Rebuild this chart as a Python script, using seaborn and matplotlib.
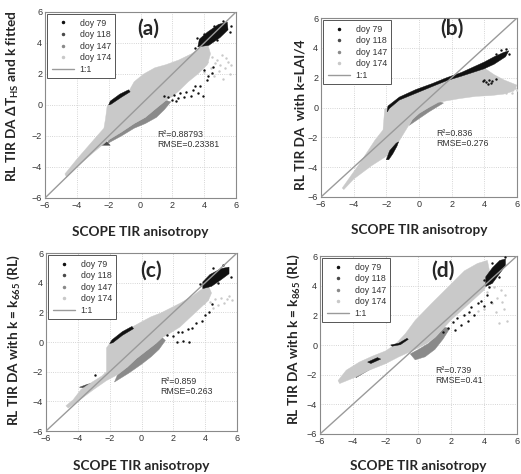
import matplotlib
matplotlib.use("Agg")
import matplotlib.pyplot as plt
from matplotlib.lines import Line2D
import seaborn as sns
import pandas as pd

# series colours (doy 79 .. doy 174)
DOYS = ["doy 79", "doy 118", "doy 147", "doy 174"]
COLORS = ["#111111", "#4a4a4a", "#8a8a8a", "#c9c9c9"]

# ---- panel (a): outlines of the dense clouds
A_174 = [(-4.75, -4.45), (-4.0, -3.5), (-2.9, -2.2), (-2.3, -1.5), (-2.2, -0.9), (-2.1, -0.1),
         (-1.9, 0.15), (-1.3, 0.55), (-0.7, 0.95), (-0.4, 1.5), (0.2, 2.0), (0.9, 2.4), (1.6, 2.6),
         (2.4, 2.9), (3.2, 3.3), (3.8, 3.7), (4.2, 4.0), (4.4, 3.3), (4.2, 2.6), (3.6, 2.0),
         (3.0, 1.5), (2.4, 0.9), (2.0, 0.55), (1.6, 0.3), (1.0, -0.2), (0.3, -0.8), (-0.4, -1.2),
         (-1.2, -1.75), (-2.0, -2.25), (-3.0, -3.1), (-4.0, -4.0), (-4.65, -4.65)]
A_147 = [(-2.1, -2.5), (-1.2, -2.0), (-0.4, -1.5), (0.3, -1.2), (1.0, -0.8), (1.5, -0.3), (1.9, 0.2),
         (1.6, 0.3), (1.0, -0.2), (0.3, -0.8), (-0.4, -1.2), (-1.2, -1.75), (-2.0, -2.25)]
A_118 = [[(-2.9, -2.35), (-2.2, -2.3), (-1.9, -2.6), (-2.5, -2.6)]]
A_79 = [[(-2.0, 0.0), (-1.9, 0.25), (-1.3, 0.7), (-0.75, 0.98), (-0.65, 0.85), (-1.2, 0.5), (-1.85, 0.05)],
        [(3.6, 3.75), (4.3, 3.85), (5.0, 4.35), (5.5, 4.85), (5.45, 5.35), (4.9, 5.2), (4.2, 4.7),
         (3.7, 4.25)]]
A_79_PTS = [(1.7, 0.5), (1.95, 0.35), (2.1, 0.65), (2.35, 0.45), (2.45, 0.75), (2.75, 0.5), (2.85, 0.85),
            (3.15, 0.6), (3.3, 0.95), (3.45, 1.2), (3.75, 1.25), (3.9, 0.55), (4.15, 1.6), (4.25, 1.9),
            (4.5, 2.05), (4.55, 2.45), (4.0, 2.25), (2.2, 0.25), (3.6, 0.8), (3.55, 4.3), (4.0, 4.6),
            (4.6, 5.1), (5.2, 5.45), (5.6, 4.7), (4.8, 4.2), (5.7, 5.1), (3.45, 3.7), (1.5, 0.6)]
A_174_PTS = [(4.2, 2.8), (4.5, 3.1), (4.8, 2.9), (5.1, 3.2), (5.5, 2.8), (5.3, 2.4), (4.9, 2.2),
             (4.6, 1.9), (5.6, 2.0), (4.4, 2.4), (5.0, 2.6), (5.7, 2.6), (4.0, 2.1), (3.8, 2.4),
             (5.2, 1.7), (4.7, 2.7), (5.4, 3.0)]

# ---- panel (b)
B_174 = [(-4.7, -5.4), (-3.6, -3.7), (-2.7, -2.2), (-2.2, -1.5), (-2.1, -0.1), (-1.9, 0.0),
         (-1.2, 0.55), (-0.2, 1.0), (0.8, 1.45), (1.7, 1.85), (2.6, 2.15), (3.3, 2.4), (4.0, 2.65),
         (4.6, 2.2), (5.2, 1.85), (6.0, 1.5), (5.8, 1.1), (5.2, 0.9), (4.4, 0.8), (3.5, 0.75),
         (2.5, 0.6), (1.7, 0.45), (1.2, 0.35), (0.6, 0.0), (0.0, -0.4), (-0.4, -0.8), (-0.8, -1.5),
         (-1.3, -2.4), (-1.9, -3.2), (-2.9, -3.9), (-4.0, -4.8), (-4.6, -5.5)]
B_147 = [(-0.6, -1.2), (0.0, -0.75), (0.6, -0.3), (1.2, 0.1), (1.5, 0.3), (1.2, 0.4), (0.6, 0.0),
         (0.0, -0.4), (-0.4, -0.8)]
B_118 = [[(-3.0, -3.4), (-2.4, -3.0), (-2.0, -2.9), (-2.1, -3.3), (-2.6, -3.5)]]
B_79 = [[(-1.95, -0.3), (-1.9, 0.1), (-1.2, 0.7), (-0.2, 1.2), (0.8, 1.6), (1.7, 2.0), (2.6, 2.35),
         (3.3, 2.7), (4.0, 3.05), (4.6, 3.4), (5.2, 3.7), (5.5, 3.8), (5.3, 3.4), (4.6, 2.9), (4.0, 2.6),
         (3.3, 2.35), (2.6, 2.1), (1.7, 1.8), (0.8, 1.4), (-0.2, 0.95), (-1.2, 0.5), (-1.8, -0.05)],
        [(-2.0, -3.5), (-1.8, -2.9), (-1.4, -2.4), (-1.25, -2.3), (-1.35, -2.6), (-1.6, -3.1), (-1.85, -3.5)]]
B_79_PTS = [(3.9, 1.75), (4.1, 1.7), (4.3, 1.85), (4.5, 1.8), (4.7, 1.9), (4.2, 1.6), (4.0, 1.85),
            (4.4, 1.65), (5.0, 3.85), (5.3, 3.9), (4.7, 3.6), (5.5, 3.6)]
B_174_PTS = [(5.6, 1.6), (5.9, 1.3), (5.7, 1.0), (5.3, 0.95), (6.0, 1.2)]

# ---- panel (c)
C_174 = [(-4.75, -4.3), (-4.3, -3.9), (-3.8, -3.2), (-3.1, -2.7), (-2.5, -2.3), (-2.2, -2.0),
         (-2.2, -0.4), (-2.0, -0.1), (-1.8, 0.05), (-1.2, 0.55), (-0.6, 1.0), (-0.1, 1.3), (0.6, 1.7),
         (1.2, 1.95), (2.4, 2.6), (3.2, 3.1), (3.7, 3.5), (4.2, 3.8), (4.4, 3.3), (4.2, 2.8), (3.6, 2.2),
         (2.9, 1.5), (2.4, 1.0), (1.8, 0.6), (1.3, 0.3), (0.9, -0.1), (0.3, -0.6), (-0.3, -1.1),
         (-0.9, -1.7), (-1.5, -2.2), (-2.2, -2.6), (-3.0, -3.2), (-4.0, -4.0), (-4.6, -4.45)]
C_147 = [(-1.7, -2.7), (-0.8, -2.1), (0.0, -1.5), (0.6, -1.0), (1.1, -0.5), (1.5, 0.1), (1.3, 0.3),
         (0.9, -0.1), (0.3, -0.6), (-0.3, -1.1), (-0.9, -1.7), (-1.5, -2.2)]
C_118 = [[(-3.9, -3.05), (-3.4, -2.85), (-3.0, -2.75), (-3.1, -2.95), (-3.6, -3.1)]]
C_79 = [[(-2.0, -0.1), (-1.85, 0.15), (-1.2, 0.7), (-0.6, 1.05), (-0.5, 0.9), (-1.2, 0.45), (-1.8, -0.05)],
        [(3.85, 3.6), (4.4, 3.75), (5.0, 4.2), (5.5, 4.6), (5.5, 5.05), (5.0, 4.95), (4.3, 4.55),
         (3.85, 4.05)]]
C_79_PTS = [(1.6, 0.5), (2.0, 0.4), (2.3, 0.65), (2.55, 0.7), (2.9, 0.85), (3.2, 0.95), (3.45, 1.25),
            (3.8, 1.45), (4.0, 1.85), (4.25, 2.05), (4.4, 2.55), (2.2, 0.0), (2.6, 0.05), (3.0, 0.0),
            (-2.9, -2.2), (4.5, 5.0), (5.1, 5.2), (5.6, 4.4), (3.7, 3.9), (4.8, 4.0)]
C_174_PTS = [(4.3, 2.7), (4.6, 2.9), (5.0, 3.0), (5.4, 2.9), (5.7, 2.8), (4.8, 2.5), (5.2, 2.6),
             (4.5, 2.3), (3.9, 2.6), (4.1, 2.9), (5.5, 3.1)]

# ---- panel (d)
D_174 = [(-4.9, -2.4), (-4.4, -1.7), (-3.6, -1.15), (-2.8, -0.75), (-2.0, -0.4), (-1.4, 0.05),
         (-0.8, 0.76), (-0.2, 1.66), (0.8, 2.8), (1.8, 3.9), (2.8, 5.0), (3.6, 5.5), (4.2, 5.7),
         (4.4, 4.6), (4.0, 3.7), (3.4, 3.1), (2.6, 2.3), (2.0, 1.7), (1.5, 1.1), (1.0, 0.5), (0.5, 0.1),
         (0.0, -0.2), (-0.6, -0.5), (-1.2, -0.8), (-2.0, -1.26), (-3.0, -1.7), (-3.8, -2.15),
         (-4.8, -2.6)]
D_147 = [(-0.2, -1.0), (0.4, -0.8), (1.0, -0.3), (1.5, 0.4), (1.9, 1.1), (1.6, 1.2), (1.1, 0.6),
         (0.6, 0.1), (0.0, -0.3), (-0.5, -0.6)]
D_118 = [[(-3.8, -2.2), (-3.2, -1.8), (-2.6, -1.4), (-2.3, -0.9), (-2.6, -0.8), (-3.0, -1.3),
          (-3.5, -1.7), (-3.9, -1.9)]]
D_79 = [[(-1.7, 0.0), (-1.2, 0.12), (-0.7, 0.45), (-0.62, 0.38), (-1.1, 0.02), (-1.6, -0.08)],
        [(-3.1, -1.15), (-2.5, -0.85), (-2.3, -0.95), (-2.9, -1.25)],
        [(4.1, 3.95), (4.5, 4.15), (4.9, 4.75), (5.3, 5.35), (5.3, 5.8), (4.95, 5.7), (4.5, 5.2),
         (4.1, 4.6)]]
D_79_PTS = [(1.5, 0.9), (1.8, 1.15), (2.1, 1.55), (2.35, 1.8), (2.6, 1.35), (2.8, 2.05), (3.05, 2.2),
            (3.2, 2.55), (3.4, 2.05), (3.6, 2.85), (3.8, 3.0), (4.0, 2.65), (4.2, 3.35), (4.4, 2.9),
            (2.2, 1.0), (3.0, 1.6), (4.0, 4.4), (4.5, 5.5), (5.3, 5.95), (4.9, 4.6), (4.3, 3.9)]
D_174_PTS = [(4.2, 3.6), (4.6, 3.9), (5.0, 3.7), (5.3, 3.4), (4.8, 3.2), (4.5, 2.8), (5.1, 2.9),
             (4.0, 2.4), (4.7, 2.2), (5.4, 1.6), (3.6, 2.3), (5.2, 2.4), (4.9, 1.5)]

YLABELS = [r"RL TIR DA ΔT$_{\mathrm{HS}}$ and k fitted", "RL TIR DA  with k=LAI/4",
           r"RL TIR DA with k = k$_{\mathrm{665}}$ (RL)", r"RL TIR DA with k = k$_{\mathrm{865}}$ (RL)"]
TAGS = ["(a)", "(b)", "(c)", "(d)"]
R2 = ["0.88793", "0.836", "0.859", "0.739"]
RMSE = ["0.23381", "0.276", "0.263", "0.41"]
TICKS = [-6, -4, -2, 0, 2, 4, 6]

sns.set_style("white")
plt.rcParams["font.family"] = ["Liberation Sans", "DejaVu Sans"]
plt.rcParams["mathtext.fontset"] = "custom"
plt.rcParams["mathtext.rm"] = "Lato:bold"

fig = plt.figure(figsize=(5.21, 4.74), dpi=100)
# axes boxes in figure fractions
boxes = [[0.0864, 0.5823, 0.3666, 0.3924],
         [0.6161, 0.5844, 0.3762, 0.3776],
         [0.0883, 0.0907, 0.3666, 0.3755],
         [0.6142, 0.0844, 0.3780, 0.3755]]
tag_pos = [(0.54, 0.91), (0.67, 0.94), (0.55, 0.90), (0.625, 0.916)]
txt_pos = [(0.59, 0.34), (0.59, 0.352), (0.597, 0.276), (0.585, 0.356)]
ylab_pos = [(-0.125, 0.55), (-0.075, 0.46), (-0.125, 0.51), (-0.09, 0.53)]
xlab_y = [-0.15, -0.15, -0.165, -0.145]

panels = [
    (A_79, A_118, A_147, A_174, A_79_PTS, A_174_PTS),
    (B_79, B_118, B_147, B_174, B_79_PTS, B_174_PTS),
    (C_79, C_118, C_147, C_174, C_79_PTS, C_174_PTS),
    (D_79, D_118, D_147, D_174, D_79_PTS, D_174_PTS),
]

for i, (p79, p118, p147, p174, pts79, pts174) in enumerate(panels):
    ax = fig.add_axes(boxes[i])
    ax.set_xlim(-6, 6)
    ax.set_ylim(-6, 6)
    ax.set_xticks(TICKS)
    ax.set_yticks(TICKS)
    ax.grid(True, linestyle=":", color="#c8c8c8", lw=0.6)
    ax.set_axisbelow(True)

    # dense clouds
    ax.fill(*zip(*p147), color=COLORS[2], lw=0.3, zorder=2)
    for poly in p118:
        ax.fill(*zip(*poly), color=COLORS[1], lw=0.3, zorder=2)
    ax.fill(*zip(*p174), color=COLORS[3], lw=0.3, zorder=3)
    for poly in p79:
        ax.fill(*zip(*poly), color=COLORS[0], lw=0.3, zorder=4)

    # sparse points at the fringe
    d79 = pd.DataFrame(pts79, columns=["x", "y"])
    d174 = pd.DataFrame(pts174, columns=["x", "y"])
    sns.scatterplot(data=d174, x="x", y="y", ax=ax, color=COLORS[3], s=3, linewidth=0, zorder=3)
    sns.scatterplot(data=d79, x="x", y="y", ax=ax, color=COLORS[0], s=3, linewidth=0, zorder=4)

    # 1:1 line
    ax.plot(TICKS, TICKS, color="#9a9a9a", lw=1.0, zorder=5)

    handles = [Line2D([], [], ls="none", marker=".", ms=3, color=c) for c in COLORS]
    handles.append(Line2D([], [], color="#9a9a9a", lw=1.0))
    leg = ax.legend(handles, DOYS + ["1:1"], loc="upper left", fontsize=6.3, frameon=True,
                    fancybox=False, edgecolor="#555555", framealpha=1, borderaxespad=0.25,
                    handlelength=2.6, labelspacing=0.3, borderpad=0.5, handletextpad=0.6)
    leg.get_frame().set_linewidth(0.7)
    for t in leg.get_texts():
        t.set_color("#333333")

    ax.text(*tag_pos[i], TAGS[i], transform=ax.transAxes, ha="center", va="center",
            fontsize=15, fontweight="bold", family=["Lato", "DejaVu Sans"])
    ax.text(txt_pos[i][0], txt_pos[i][1], "R²=" + R2[i], transform=ax.transAxes,
            fontsize=6.3, color="#333333", va="center")
    ax.text(txt_pos[i][0], txt_pos[i][1] - 0.055, "RMSE=" + RMSE[i], transform=ax.transAxes,
            fontsize=6.3, color="#333333", va="center")

    ax.set_xlabel("SCOPE TIR anisotropy", fontsize=9.8, fontweight="bold",
                  family=["Lato", "DejaVu Sans"])
    ax.set_ylabel(YLABELS[i], fontsize=9.8, fontweight="bold", family=["Lato", "DejaVu Sans"])
    ax.xaxis.set_label_coords(0.5, xlab_y[i])
    ax.yaxis.set_label_coords(*ylab_pos[i])

    ax.tick_params(direction="in", length=2, width=0.6, labelsize=6.5, labelcolor="#333333",
                   color="#777777", pad=2)
    for s in ax.spines.values():
        s.set_color("#8a8a8a")
        s.set_linewidth(0.8)

fig.savefig("out.png", dpi=100)
